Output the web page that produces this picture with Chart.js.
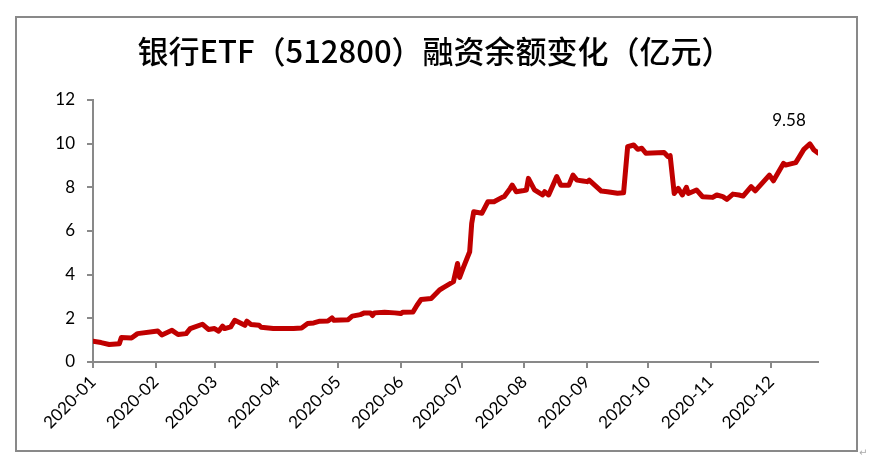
<!DOCTYPE html>
<html>
<head>
<meta charset="utf-8">
<script src="https://cdn.jsdelivr.net/npm/chart.js@4"></script>
<style>
  html, body { margin: 0; padding: 0; background: #fff; }
  #wrap { position: relative; width: 885px; height: 476px; }
</style>
</head>
<body>
<div id="wrap"><canvas id="margin-chart" width="885" height="476"></canvas></div>
<script>
// 银行ETF(512800)融资余额, 2020, 亿元
const chartTitle = '银行ETF（512800）融资余额变化（亿元）';
const dates = [
    '01-01', '01-05', '01-09', '01-14', '01-15', '01-20', '01-23',
    '02-02', '02-04', '02-09', '02-12', '02-16', '02-18', '02-24', '02-27',
    '03-01', '03-03', '03-05', '03-06', '03-09', '03-11', '03-16', '03-17', '03-19', '03-23', '03-24', '03-30',
    '04-09', '04-13', '04-16', '04-19', '04-22', '04-26', '04-28', '04-29',
    '05-06', '05-08', '05-12', '05-14', '05-17', '05-18', '05-19', '05-24', '05-29',
    '06-01', '06-02', '06-07', '06-09', '06-11', '06-16', '06-20', '06-22', '06-27', '06-29', '06-30',
    '07-02', '07-05', '07-06', '07-07', '07-11', '07-14', '07-17', '07-21', '07-22', '07-25', '07-26', '07-28', '07-31',
    '08-02', '08-03', '08-06', '08-10', '08-11', '08-13', '08-17', '08-19', '08-23', '08-25', '08-27', '08-30',
    '09-01', '09-02', '09-08', '09-11', '09-16', '09-19', '09-21', '09-24', '09-26', '09-28', '09-30',
    '10-09', '10-11', '10-12', '10-14', '10-16', '10-18', '10-20', '10-21', '10-25', '10-28',
    '11-02', '11-04', '11-07', '11-09', '11-12', '11-15', '11-17', '11-21', '11-23', '11-30',
    '12-02', '12-07', '12-08', '12-13', '12-14', '12-17', '12-20', '12-22', '12-24'
];
const balance = [
    0.95, 0.89, 0.80, 0.84, 1.12, 1.10, 1.30,
    1.42, 1.24, 1.45, 1.26, 1.30, 1.53, 1.73, 1.49,
    1.53, 1.41, 1.64, 1.53, 1.61, 1.91, 1.68, 1.87, 1.72, 1.68, 1.59, 1.53,
    1.53, 1.56, 1.76, 1.79, 1.87, 1.88, 2.02, 1.91,
    1.94, 2.10, 2.17, 2.25, 2.25, 2.13, 2.25, 2.28, 2.25,
    2.22, 2.28, 2.29, 2.60, 2.86, 2.91, 3.29, 3.41, 3.68, 4.51, 3.87,
    4.36, 5.05, 6.35, 6.88, 6.81, 7.34, 7.34, 7.54, 7.57, 7.95, 8.10, 7.80, 7.84,
    7.88, 8.41, 7.88, 7.65, 7.80, 7.65, 8.49, 8.10, 8.10, 8.56, 8.33, 8.29,
    8.26, 8.33, 7.83, 7.80, 7.73, 7.75, 9.86, 9.94, 9.74, 9.79, 9.56,
    9.59, 9.40, 9.45, 7.72, 7.95, 7.65, 8.00, 7.72, 7.88, 7.57,
    7.54, 7.65, 7.57, 7.45, 7.69, 7.65, 7.60, 8.03, 7.84, 8.56,
    8.30, 9.10, 9.02, 9.13, 9.28, 9.74, 9.99, 9.71, 9.58
];
const monthLabels = ['2020-01', '2020-02', '2020-03', '2020-04', '2020-05', '2020-06',
    '2020-07', '2020-08', '2020-09', '2020-10', '2020-11', '2020-12'];
const yTicks = [0, 2, 4, 6, 8, 10, 12];

const YEAR = 2020;
const dayOfYear = (mm, dd) => (Date.UTC(YEAR, mm - 1, dd) - Date.UTC(YEAR, 0, 1)) / 86400000;
const monthStarts = monthLabels.map((m, i) => dayOfYear(i + 1, 1));
const lastDay = dayOfYear(12, 24);

const labelFont = { family: 'Lato, "Liberation Sans", sans-serif', size: 17 };
const axisGrey = '#898989';

// frame, title (centred on the frame, not the plot) and the value tag on the last point
const framePlugin = {
    id: 'frame',
    beforeDraw(chart) {
        const ctx = chart.ctx;
        ctx.save();
        ctx.fillStyle = '#fff';
        ctx.fillRect(0, 0, chart.width, chart.height);
        ctx.strokeStyle = axisGrey;
        ctx.lineWidth = 2;
        ctx.strokeRect(16, 17, 841, 434);
        ctx.fillStyle = '#000';
        ctx.font = '500 31px "Noto Sans CJK SC", sans-serif';
        ctx.textAlign = 'center';
        ctx.textBaseline = 'middle';
        ctx.fillText(chartTitle, 435, 51);
        ctx.fillStyle = '#aaa';
        ctx.font = '10px "DejaVu Sans"';
        ctx.textAlign = 'left';
        ctx.fillText('↵', 859, 453);
        ctx.restore();
    },
    afterDatasetsDraw(chart) {
        const meta = chart.getDatasetMeta(0);
        const last = meta.data[meta.data.length - 1];
        const ctx = chart.ctx;
        ctx.save();
        ctx.fillStyle = '#000';
        ctx.font = '17px Lato, "Liberation Sans", sans-serif';
        ctx.textAlign = 'center';
        ctx.textBaseline = 'middle';
        ctx.fillText(balance[balance.length - 1].toFixed(2), last.x - 29, last.y - 32);
        ctx.restore();
    }
};

function buildMarginChart() {
    const ctx = document.getElementById('margin-chart').getContext('2d');
    const points = dates.map((d, i) => {
        const [mm, dd] = d.split('-').map(Number);
        return { x: dayOfYear(mm, dd), y: balance[i] };
    });
    return new Chart(ctx, {
        type: 'line',
        data: {
            datasets: [{
                label: '融资余额',
                data: points,
                borderColor: '#C00000',
                borderWidth: 5,
                pointRadius: 0,
                tension: 0,
                borderJoinStyle: 'round',
                borderCapStyle: 'round'
            }]
        },
        options: {
            responsive: false,
            animation: false,
            layout: { padding: { left: 17, right: 67, top: 100, bottom: 34 } },
            plugins: {
                legend: { display: false },
                tooltip: { enabled: false },
                title: { display: false }
            },
            scales: {
                x: {
                    type: 'linear',
                    min: 0,
                    max: lastDay,
                    afterBuildTicks: (scale) => { scale.ticks = monthStarts.map(v => ({ value: v })); },
                    afterFit: (scale) => { scale.height = 80; },
                    grid: { drawOnChartArea: false, color: axisGrey, lineWidth: 2, tickLength: 6 },
                    border: { color: axisGrey, width: 2 },
                    ticks: {
                        autoSkip: false,
                        minRotation: 45,
                        maxRotation: 45,
                        padding: 4,
                        color: '#000',
                        font: labelFont,
                        callback: (v, i) => monthLabels[i]
                    }
                },
                y: {
                    min: 0,
                    max: 12,
                    afterBuildTicks: (scale) => { scale.ticks = yTicks.map(v => ({ value: v })); },
                    afterFit: (scale) => { scale.width = 76; },
                    grid: { drawOnChartArea: false, color: axisGrey, lineWidth: 2, tickLength: 6 },
                    border: { color: axisGrey, width: 2 },
                    ticks: { padding: 12, color: '#000', font: labelFont }
                }
            }
        },
        plugins: [framePlugin]
    });
}

document.addEventListener('DOMContentLoaded', buildMarginChart);
</script>
</body>
</html>
